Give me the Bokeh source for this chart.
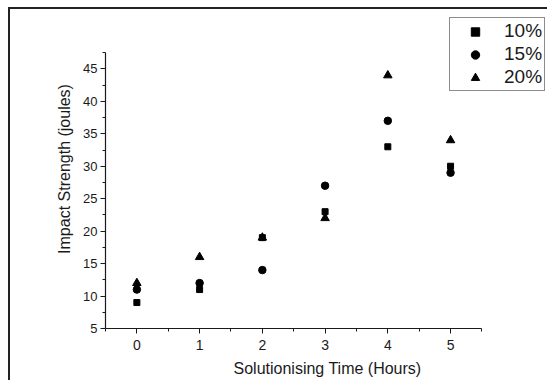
from bokeh.plotting import figure
from bokeh.models import Legend, LegendItem, Range1d, FixedTicker
from bokeh.embed import file_html
from bokeh.resources import INLINE

hours = [0, 1, 2, 3, 4, 5]
s10 = [9, 11, 19, 23, 33, 30]
s15 = [11, 12, 14, 27, 37, 29]
s20 = [12, 16, 19, 22, 44, 34]
labels = ["10%", "15%", "20%"]
x_ticks = [0, 1, 2, 3, 4, 5]
x_minor = [-0.5, 0.5, 1.5, 2.5, 3.5, 4.5, 5.5]
y_ticks = [5, 10, 15, 20, 25, 30, 35, 40, 45]
y_minor = [7.5, 12.5, 17.5, 22.5, 27.5, 32.5, 37.5, 42.5, 47.5]

FONT = "Liberation Sans"
INK = "#1a1a1a"

p = figure(width=539, height=373, output_backend="svg", toolbar_location=None,
           x_range=Range1d(-0.5, 6.577), y_range=Range1d(5, 54.15),
           min_border_left=95, min_border_right=0, min_border_top=0, min_border_bottom=54)
p.outline_line_color = None
p.xgrid.visible = False
p.ygrid.visible = False
p.background_fill_color = "white"
p.border_fill_color = "white"
p.styles = {"border-top": "2px solid #222", "border-left": "2px solid #222",
            "box-sizing": "border-box", "margin-left": "8px", "margin-top": "7px"}

r1 = p.scatter(hours, s10, marker="square", size=6, color="black")
r2 = p.scatter(hours, s15, marker="circle", size=7.5, color="black")
r3 = p.scatter(hours, s20, marker="triangle", size=8.5, color="black")

for ax in (p.xaxis[0], p.yaxis[0]):
    ax.axis_line_color = INK
    ax.axis_line_width = 1.2
    ax.major_tick_line_color = INK
    ax.minor_tick_line_color = INK
    ax.major_tick_in = 0
    ax.major_tick_out = 5
    ax.minor_tick_in = 0
    ax.minor_tick_out = 3
    ax.major_label_text_font = FONT
    ax.major_label_text_color = INK
    ax.axis_label_text_font = FONT
    ax.axis_label_text_color = INK
    ax.axis_label_text_font_style = "normal"
    ax.axis_label_text_font_size = "16px"

p.xaxis.bounds = (-0.5, 5.5)
p.yaxis.bounds = (5, 47.5)
p.xaxis.ticker = FixedTicker(ticks=x_ticks, minor_ticks=x_minor)
p.yaxis.ticker = FixedTicker(ticks=y_ticks, minor_ticks=y_minor)
p.xaxis.major_label_text_font_size = "14px"
p.yaxis.major_label_text_font_size = "13px"
p.xaxis.axis_label = "Solutionising Time (Hours)"
p.yaxis.axis_label = "Impact Strength (joules)"
p.xaxis.major_label_standoff = 6
p.xaxis.axis_label_standoff = 7
p.yaxis.major_label_standoff = 3
p.yaxis.axis_label_standoff = 7

legend = Legend(items=[LegendItem(label=labels[0], renderers=[r1]),
                       LegendItem(label=labels[1], renderers=[r2]),
                       LegendItem(label=labels[2], renderers=[r3])],
                location=(344, 237))
legend.label_text_font = FONT
legend.label_text_font_size = "19px"
legend.label_text_color = INK
legend.border_line_color = INK
legend.border_line_width = 1.2
legend.spacing = 1
legend.padding = 2
legend.margin = 0
legend.glyph_width = 46
legend.label_standoff = 6
legend.label_height = 21
legend.glyph_height = 21
p.add_layout(legend, "center")

open("out.html", "w").write(file_html(p, INLINE))
